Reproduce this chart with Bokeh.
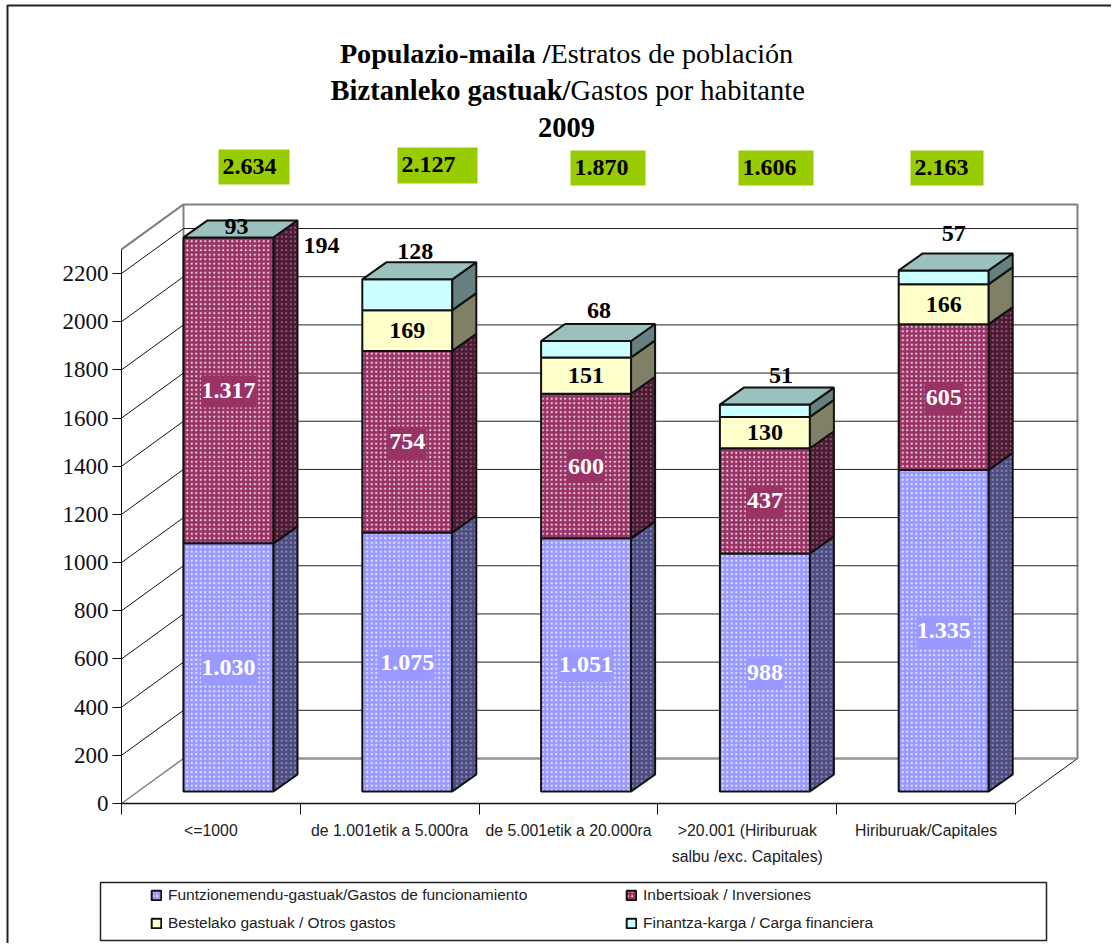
import numpy as np
from bokeh.plotting import figure
from bokeh.models import Range1d, FixedTicker, Legend, LegendItem
from bokeh.core.properties import value
from bokeh.embed import file_html
from bokeh.resources import INLINE

categories = ["<=1000", "de 1.001etik a 5.000ra", "de 5.001etik a 20.000ra",
              ">20.001 (Hiriburuak\nsalbu /exc. Capitales)", "Hiriburuak/Capitales"]
funtzionamendu = [1030, 1075, 1051, 988, 1335]
inbertsioak = [1317, 754, 600, 437, 605]
bestelako = [194, 169, 151, 130, 166]
finantza = [93, 128, 68, 51, 57]
totals = ["2.634", "2.127", "1.870", "1.606", "2.163"]
y_ticks = [0, 200, 400, 600, 800, 1000, 1200, 1400, 1600, 1800, 2000, 2200]
AXIS_MAX = 2300
names = ["Funtzionemendu-gastuak/Gastos de funcionamiento", "Inbertsioak / Inversiones",
         "Bestelako gastuak / Otros gastos", "Finantza-karga / Carga financiera"]

W, H = 1111, 943
OX, OY = 0, 0      # reference pixel of the figure's corner
PX_X, PX_Y = 178.8, 0.2409
X0, Y0 = 121, 803
def X(px): return (np.asarray(px, dtype=float) - X0) / PX_X
def Y(py): return (Y0 - np.asarray(py, dtype=float)) / PX_Y

p = figure(width=W, height=H, output_backend="svg", toolbar_location=None,
           x_range=Range1d(float(X(OX)), float(X(OX + W))), y_range=Range1d(float(Y(OY + H)), float(Y(OY))),
           min_border=0, outline_line_color=None, background_fill_color="white")
p.grid.visible = False

# geometry (wall and bar depth)
WALL_DX, WALL_DY = 62 / PX_X, 45 / PX_Y
BAR_DX, BAR_DY = 24 / PX_X, 17 / PX_Y
BAR_L, BAR_W = 62 / PX_X, 90 / PX_X
BAR_BASE = 12 / PX_Y
FONT = value("Liberation Serif")

# outer frame (left and top only)
p.line(X([7, 7, OX + W]), Y([OY + H, 5, 5]), line_color="#222222", line_width=2)

# walls
n = len(categories)
p.line([0, WALL_DX, WALL_DX, n + WALL_DX, n + WALL_DX, WALL_DX],
       [AXIS_MAX, AXIS_MAX + WALL_DY, WALL_DY, WALL_DY, AXIS_MAX + WALL_DY, AXIS_MAX + WALL_DY],
       line_color="#808080", line_width=2)
p.line([0, WALL_DX], [0, WALL_DY], line_color="#808080", line_width=1.5)
p.line([n, n + WALL_DX], [0, WALL_DY], line_color="#111111", line_width=1)
p.segment([WALL_DX] * 1, [WALL_DY], [n + WALL_DX], [WALL_DY], line_color="#999999", line_width=2)
gv = y_ticks[1:]
p.segment([0] * len(gv), gv, [WALL_DX] * len(gv), [v + WALL_DY for v in gv], line_color="#111111", line_width=1)
p.segment([WALL_DX] * len(gv), [v + WALL_DY for v in gv], [n + WALL_DX] * len(gv),
          [v + WALL_DY for v in gv], line_color="#222222", line_width=1)

# bars
stack = np.array([funtzionamendu, inbertsioak, bestelako, finantza], dtype=float)
tops = np.minimum(np.cumsum(stack, axis=0), AXIS_MAX)
bots = np.vstack([np.zeros(n), tops[:-1]])
front_col = ["#9999FF", "#993366", "#FFFFCC", "#CCFFFF"]
side_col = ["#4D4D80", "#4D1A33", "#808066", "#668080"]
hatch_front = ["dot", "dot", None, None]
hatch_side = ["#9a9ad0", "#a06a85", None, None]
rend = []
for s in range(4):
    fx, fy, sx, sy = [], [], [], []
    for i in range(n):
        b, t = bots[s, i] + BAR_BASE, tops[s, i] + BAR_BASE
        if t <= b:
            continue
        l = i + BAR_L
        r = l + BAR_W
        fx.append([l, r, r, l]); fy.append([b, b, t, t])
        sx.append([r, r + BAR_DX, r + BAR_DX, r]); sy.append([b, b + BAR_DY, t + BAR_DY, t])
    kw = dict(line_color="#111111", line_width=2)
    hf = dict(hatch_pattern="dot", hatch_color="white", hatch_alpha=0.75, hatch_scale=4.5, hatch_weight=1.8) if hatch_front[s] else {}
    hs = dict(hatch_pattern="dot", hatch_color=hatch_side[s], hatch_alpha=0.8, hatch_scale=4.5, hatch_weight=1.8) if hatch_side[s] else {}
    rf = p.patches(fx, fy, fill_color=front_col[s], **kw, **hf)
    p.patches(sx, sy, fill_color=side_col[s], **kw, **hs)
    rend.append(rf)

# top faces
tx, ty = [], []
for i in range(n):
    t = tops[-1, i] + BAR_BASE
    l = i + BAR_L
    r = l + BAR_W
    tx.append([l, r, r + BAR_DX, l + BAR_DX]); ty.append([t, t, t + BAR_DY, t + BAR_DY])
p.patches(tx, ty, fill_color="#9BC1BF", line_color="#111111", line_width=2)

# axes
yax = p.yaxis[0]
yax.fixed_location = 0
yax.bounds = (0, AXIS_MAX)
yax.ticker = FixedTicker(ticks=y_ticks)
yax.major_tick_in = 0
yax.major_tick_out = 9
yax.minor_tick_line_color = None
yax.major_label_text_font = "Liberation Serif"
yax.major_label_text_font_size = "23px"
yax.major_label_text_color = "#111111"
yax.major_label_standoff = 4
yax.axis_line_color = "#111111"
yax.major_tick_line_color = "#111111"
yax.formatter.use_scientific = False

xax = p.xaxis[0]
xax.fixed_location = 0
xax.bounds = (0, n)
xax.ticker = FixedTicker(ticks=[i + 0.5 for i in range(n)], minor_ticks=list(range(n + 1)))
xax.major_label_overrides = {i + 0.5: c for i, c in enumerate(categories)}
xax.major_tick_line_color = None
xax.minor_tick_in = 0
xax.minor_tick_out = 11
xax.minor_tick_line_color = "#111111"
xax.axis_line_color = "#111111"
xax.axis_line_width = 1.5
xax.major_label_text_font = "Liberation Sans"
xax.major_label_text_font_size = "15.8px"
xax.major_label_text_color = "#222222"
xax.major_label_text_line_height = 1.55
xax.major_label_standoff = 7

# title
def title_line(py, bold, normal, bx, size):
    p.text([float(X(bx))], [float(Y(py))], text=[bold], text_font=FONT, text_font_size=size,
           text_font_style="bold", text_align="right", text_baseline="middle", text_color="black")
    p.text([float(X(bx))], [float(Y(py))], text=[normal], text_font=FONT, text_font_size=size,
           text_align="left", text_baseline="middle", text_color="black")
title_line(53, "Populazio-maila /", "Estratos de población", 550, "28.2px")
title_line(90, "Biztanleko gastuak/", "Gastos por habitante", 570, "28.5px")
p.text([float(X(566))], [float(Y(127))], text=["2009"], text_font=FONT, text_font_size="28.5px",
       text_font_style="bold", text_align="center", text_baseline="middle", text_color="black")

# totals
box_l = [218, 397, 570, 738, 910]
box_r = [289, 477, 645, 813, 983]
box_t = [149, 147, 150, 150, 150]
box_b = [184, 183, 185, 185, 185]
p.quad(left=X(box_l), right=X(box_r), top=Y(box_t), bottom=Y(box_b), fill_color="#99CC00", line_color=None)
p.text(X(np.array(box_l) + 4), Y((np.array(box_t) + np.array(box_b)) / 2 - 1), text=totals, text_font=FONT,
       text_font_size="24px", text_font_style="bold", text_align="left", text_baseline="middle", text_color="black")

# value labels inside bars
cx = np.arange(n) + BAR_L + BAR_W / 2
lab = lambda arr: [f"{v // 1000}.{v % 1000:03d}" if v >= 1000 else str(v) for v in arr]
for s, col, tc in [(0, "#9999FF", "white"), (1, "#993366", "white")]:
    mids = (bots[s] + tops[s]) / 2 + BAR_BASE
    texts = lab(stack[s].astype(int).tolist())
    p.rect(cx, mids - 1 / PX_Y, width=[55 if len(t) > 3 else 38 for t in texts], height=32,
           width_units="screen", height_units="screen", fill_color=col, line_color=None)
    p.text(cx, mids, text=texts, text_font=FONT, text_font_size="24px",
           text_font_style="bold", text_align="center", text_baseline="middle", text_color=tc)
mids = (bots[2] + tops[2]) / 2 + BAR_BASE
vis = tops[2] > bots[2]
p.text(cx[vis], mids[vis], text=[str(int(v)) for v in stack[2][vis]], text_font=FONT, text_font_size="24px",
       text_font_style="bold", text_align="center", text_baseline="middle", text_color="black")

# labels above the bars
off_x = [8, 8, 13, 16, 10]
off_y = [-11, -28, -31, -29, -37]
p.text(cx + np.array(off_x) / PX_X, tops[3] + BAR_BASE - np.array(off_y) / PX_Y, text=[str(v) for v in finantza],
       text_font=FONT, text_font_size="24px", text_font_style="bold", text_align="center",
       text_baseline="middle", text_color="black")
p.text([float(X(321))], [float(Y(245))], text=[str(bestelako[0])], text_font=FONT, text_font_size="24px",
       text_font_style="bold", text_align="center", text_baseline="middle", text_color="black")

# legend
p.quad(left=X([100]), right=X([1046]), top=Y([882]), bottom=Y([940]), fill_color="white",
       line_color="#222222", line_width=1.5)
for loc_x, idx in [(150, (0, 2)), (625, (1, 3))]:
    leg = Legend(items=[LegendItem(label=names[i], renderers=[rend[i]]) for i in idx],
                 location=(loc_x - OX, OY + H - 933), orientation="vertical",
                 background_fill_alpha=0, border_line_color=None, padding=0, margin=0,
                 spacing=8, label_standoff=6, glyph_width=12, glyph_height=12,
                 label_text_font="Liberation Sans", label_text_font_size="15.5px", label_text_color="#222222",
                 label_height=20)
    p.add_layout(leg)

open("out.html", "w").write(file_html(p, INLINE))
